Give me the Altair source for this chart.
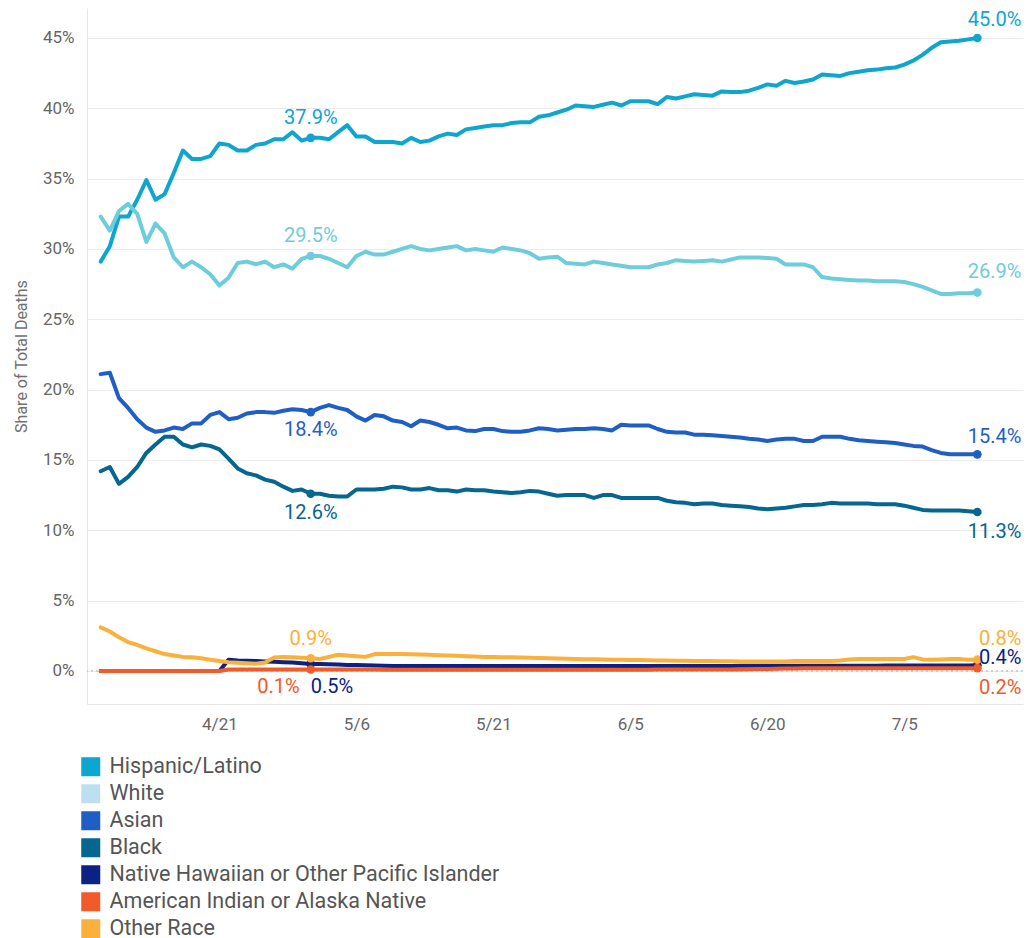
import altair as alt
import pandas as pd

series_names = [
    "Hispanic/Latino",
    "White",
    "Asian",
    "Black",
    "Native Hawaiian or Other Pacific Islander",
    "American Indian or Alaska Native",
    "Other Race",
]
line_colors = ["#0ea5cf", "#6ecddb", "#1f5fc5", "#05668f", "#0b2183", "#f15a29", "#fbb03b"]
swatch_colors = ["#0ca6d1", "#bde0f1", "#1f5fc5", "#05668f", "#0b2183", "#f15a29", "#fbb03b"]

dates = pd.date_range("2020-04-08", "2020-07-13", freq="D").strftime("%Y-%m-%d").tolist()
tick_labels = ["4/21", "5/6", "5/21", "6/5", "6/20", "7/5"]

hispanic = [
    29.1, 30.2, 32.3, 32.3, 33.5, 34.9, 33.5, 33.9, 35.4, 37.0,
    36.4, 36.4, 36.6, 37.5, 37.4, 37.0, 37.0, 37.4, 37.5, 37.8,
    37.8, 38.3, 37.7, 37.9, 37.9, 37.8, 38.3, 38.8, 38.0, 38.0,
    37.6, 37.6, 37.6, 37.5, 37.9, 37.6, 37.7, 38.0, 38.2, 38.1,
    38.5, 38.6, 38.7, 38.8, 38.8, 38.95, 39.0, 39.0, 39.4, 39.5,
    39.7, 39.9, 40.2, 40.15, 40.1, 40.25, 40.4, 40.2, 40.5, 40.5,
    40.5, 40.3, 40.8, 40.7, 40.85, 41.0, 40.95, 40.9, 41.2, 41.15,
    41.15, 41.25, 41.45, 41.7, 41.6, 41.95, 41.8, 41.9, 42.05, 42.4,
    42.35, 42.3, 42.5, 42.6, 42.7, 42.75, 42.85, 42.9, 43.1, 43.4,
    43.8, 44.3, 44.7, 44.75, 44.8, 44.9, 45.0,
]
white = [
    32.3, 31.3, 32.7, 33.2, 32.5, 30.5, 31.8, 31.1, 29.4, 28.7,
    29.1, 28.7, 28.2, 27.4, 27.95, 29.0, 29.1, 28.9, 29.1, 28.7,
    28.9, 28.6, 29.3, 29.5, 29.5, 29.3, 29.0, 28.7, 29.5, 29.8,
    29.6, 29.6, 29.8, 30.0, 30.2, 30.0, 29.9, 30.0, 30.1, 30.2,
    29.9, 30.0, 29.9, 29.8, 30.1, 30.0, 29.9, 29.7, 29.3, 29.4,
    29.45, 29.0, 28.95, 28.9, 29.1, 29.0, 28.9, 28.8, 28.7, 28.7,
    28.7, 28.9, 29.0, 29.2, 29.15, 29.1, 29.15, 29.2, 29.1, 29.25,
    29.4, 29.4, 29.4, 29.35, 29.3, 28.9, 28.9, 28.9, 28.7, 28.0,
    27.9, 27.85, 27.8, 27.75, 27.75, 27.7, 27.7, 27.7, 27.65, 27.5,
    27.3, 27.05, 26.8, 26.8, 26.85, 26.85, 26.9,
]
asian = [
    21.1, 21.2, 19.4, 18.7, 17.9, 17.3, 17.0, 17.1, 17.3, 17.2,
    17.6, 17.6, 18.2, 18.4, 17.9, 18.0, 18.3, 18.4, 18.4, 18.35,
    18.5, 18.6, 18.55, 18.4, 18.7, 18.9, 18.7, 18.55, 18.1, 17.8,
    18.2, 18.1, 17.8, 17.7, 17.4, 17.8, 17.7, 17.5, 17.25, 17.3,
    17.1, 17.05, 17.2, 17.2, 17.05, 17.0, 17.0, 17.1, 17.25, 17.2,
    17.1, 17.15, 17.2, 17.2, 17.25, 17.2, 17.1, 17.5, 17.45, 17.45,
    17.45, 17.2, 17.0, 16.95, 16.95, 16.8, 16.8, 16.75, 16.7, 16.65,
    16.6, 16.5, 16.45, 16.35, 16.45, 16.5, 16.5, 16.35, 16.35, 16.65,
    16.65, 16.65, 16.5, 16.4, 16.35, 16.3, 16.25, 16.2, 16.1, 16.0,
    15.95, 15.7, 15.5, 15.4, 15.4, 15.4, 15.4,
]
black = [
    14.2, 14.5, 13.3, 13.8, 14.5, 15.5, 16.1, 16.65, 16.65, 16.1,
    15.9, 16.1, 16.0, 15.75, 15.1, 14.4, 14.05, 13.9, 13.6, 13.45,
    13.1, 12.8, 12.9, 12.6, 12.6, 12.45, 12.4, 12.4, 12.9, 12.9,
    12.9, 12.95, 13.1, 13.05, 12.9, 12.9, 13.0, 12.85, 12.85, 12.75,
    12.9, 12.85, 12.85, 12.75, 12.7, 12.65, 12.7, 12.8, 12.75, 12.6,
    12.45, 12.5, 12.5, 12.5, 12.3, 12.5, 12.5, 12.3, 12.3, 12.3,
    12.3, 12.3, 12.1, 12.0, 11.95, 11.85, 11.9, 11.9, 11.8, 11.75,
    11.7, 11.65, 11.55, 11.5, 11.55, 11.6, 11.7, 11.8, 11.8, 11.85,
    11.95, 11.9, 11.9, 11.9, 11.9, 11.85, 11.85, 11.85, 11.75, 11.6,
    11.45, 11.4, 11.4, 11.4, 11.4, 11.35, 11.3,
]
nhpi = [
    0, 0, 0, 0, 0, 0, 0, 0, 0, 0,
    0, 0, 0, 0, 0.8, 0.75, 0.72, 0.7, 0.68, 0.65,
    0.62, 0.6, 0.55, 0.5, 0.5, 0.48, 0.45, 0.43, 0.42, 0.4,
    0.38, 0.37, 0.36, 0.35, 0.35, 0.35, 0.35, 0.35, 0.35, 0.35,
    0.35, 0.35, 0.35, 0.35, 0.35, 0.35, 0.35, 0.35, 0.35, 0.35,
    0.35, 0.35, 0.35, 0.35, 0.35, 0.35, 0.35, 0.35, 0.35, 0.35,
    0.35, 0.35, 0.35, 0.36, 0.36, 0.36, 0.36, 0.36, 0.36, 0.36,
    0.37, 0.37, 0.37, 0.37, 0.37, 0.37, 0.37, 0.37, 0.37, 0.37,
    0.37, 0.37, 0.37, 0.37, 0.37, 0.37, 0.38, 0.38, 0.38, 0.38,
    0.38, 0.38, 0.38, 0.38, 0.39, 0.39, 0.4,
]
aian = [
    0, 0, 0, 0, 0, 0, 0, 0, 0, 0,
    0, 0, 0, 0, 0.1, 0.1, 0.1, 0.1, 0.1, 0.1,
    0.1, 0.1, 0.1, 0.1, 0.1, 0.1, 0.1, 0.1, 0.1, 0.1,
    0.1, 0.08, 0.08, 0.08, 0.08, 0.08, 0.08, 0.08, 0.08, 0.08,
    0.08, 0.08, 0.08, 0.08, 0.08, 0.08, 0.08, 0.08, 0.08, 0.08,
    0.08, 0.08, 0.08, 0.08, 0.08, 0.08, 0.08, 0.08, 0.08, 0.08,
    0.08, 0.1, 0.1, 0.1, 0.1, 0.1, 0.1, 0.1, 0.1, 0.1,
    0.1, 0.12, 0.13, 0.14, 0.15, 0.17, 0.18, 0.19, 0.2, 0.2,
    0.2, 0.2, 0.2, 0.2, 0.2, 0.2, 0.2, 0.2, 0.2, 0.2,
    0.2, 0.2, 0.2, 0.2, 0.2, 0.2, 0.2,
]
other = [
    3.1, 2.8, 2.4, 2.05, 1.85, 1.6, 1.4, 1.2, 1.1, 1.0,
    0.97, 0.9, 0.8, 0.7, 0.62, 0.58, 0.55, 0.52, 0.6, 0.95,
    1.0, 0.97, 0.93, 0.9, 0.85, 1.0, 1.15, 1.1, 1.05, 1.0,
    1.2, 1.2, 1.2, 1.2, 1.18, 1.17, 1.15, 1.12, 1.1, 1.08,
    1.05, 1.03, 1.0, 1.0, 0.98, 0.97, 0.95, 0.93, 0.92, 0.9,
    0.88, 0.87, 0.85, 0.84, 0.83, 0.82, 0.8, 0.79, 0.78, 0.77,
    0.76, 0.75, 0.74, 0.73, 0.72, 0.71, 0.7, 0.7, 0.69, 0.69,
    0.68, 0.68, 0.68, 0.68, 0.68, 0.68, 0.7, 0.7, 0.7, 0.7,
    0.7, 0.75, 0.82, 0.85, 0.85, 0.85, 0.85, 0.85, 0.85, 0.98,
    0.82, 0.8, 0.82, 0.85, 0.85, 0.8, 0.8,
]

all_values = [hispanic, white, asian, black, nhpi, aian, other]
marker_days = [23, 96]

# placement of the value labels (style only)
label_place = {
    ("Hispanic/Latino", 23): ("center", 0, -20),
    ("White", 23): ("center", 0, -20),
    ("Asian", 23): ("center", 0, 18),
    ("Black", 23): ("center", 0, 19),
    ("Native Hawaiian or Other Pacific Islander", 23): ("left", 0, 23),
    ("American Indian or Alaska Native", 23): ("right", -11, 17),
    ("Other Race", 23): ("center", 0, -19),
    ("Hispanic/Latino", 96): ("right", 44, -18),
    ("White", 96): ("right", 44, -21),
    ("Asian", 96): ("right", 44, -17),
    ("Black", 96): ("right", 44, 20),
    ("Native Hawaiian or Other Pacific Islander", 96): ("right", 44, -7),
    ("American Indian or Alaska Native", 96): ("right", 44, 20),
    ("Other Race", 96): ("right", 44, -21),
}

rows = []
for name, vals in zip(series_names, all_values):
    for i, (d, v) in enumerate(zip(dates, vals)):
        rows.append({"series": name, "date": d, "value": v, "day": i})
df = pd.DataFrame(rows)
dots_df = df[df["day"].isin(marker_days)].copy()
dots_df["label"] = dots_df["value"].map(lambda v: f"{v:.1f}%")

def md(label):
    m, d = label.split("/")
    return alt.DateTime(year=2020, month=int(m), date=int(d), utc=True)

FONT = "Roboto"
x_enc = alt.X(
    "date:T",
    scale=alt.Scale(
        type="utc",
        nice=False,
        domain=[alt.DateTime(year=2020, month=4, date=6, hours=12, utc=True),
                alt.DateTime(year=2020, month=7, date=18, utc=True)],
    ),
    axis=alt.Axis(
        values=[md(t) for t in tick_labels], format="%-m/%-d", title=None,
        grid=False, ticks=False, tickSize=0, labelPadding=12,
        labelFontSize=17, labelColor="#666666", labelFont=FONT,
        domainColor="#e6e6e6", domainWidth=1,
    ),
)
y_enc = alt.Y(
    "value:Q",
    scale=alt.Scale(domain=[-2.35, 47.13], nice=False, zero=False),
    axis=alt.Axis(
        values=list(range(0, 50, 5)), labelExpr="datum.value + '%'",
        title="Share of Total Deaths", titleFontSize=16, titleFontWeight="normal",
        titleColor="#707070", titleFont=FONT, titlePadding=13,
        labelFontSize=17, labelColor="#666666", labelFont=FONT, labelPadding=13,
        ticks=False, tickSize=0, grid=True, gridColor="#ebebeb",
        domainColor="#e6e6e6", domainWidth=1,
    ),
)
line_scale = alt.Scale(domain=series_names, range=line_colors)

base = alt.Chart(df)

zero_rule = alt.Chart(pd.DataFrame({"value": [0]})).mark_rule(
    color="#aaaaaa", strokeDash=[2, 3], strokeWidth=1
).encode(y=y_enc)

legend_layer = base.mark_square(opacity=0, size=1).encode(
    x=x_enc, y=y_enc,
    fill=alt.Fill(
        "series:N",
        scale=alt.Scale(domain=series_names, range=swatch_colors),
        legend=alt.Legend(
            title=None, orient="none", legendX=-7, legendY=748, direction="vertical",
            symbolType="square", symbolSize=361, symbolStrokeWidth=0,
            labelFontSize=21.5, labelFont=FONT, labelColor="#555555",
            labelOffset=8, rowPadding=4, padding=0, labelLimit=700,
        ),
    ),
)

lines = base.mark_line(strokeWidth=4, strokeJoin="round", strokeCap="round").encode(
    x=x_enc, y=y_enc,
    stroke=alt.Stroke("series:N", scale=line_scale, legend=None),
)

dots = alt.Chart(dots_df).mark_circle(size=75, opacity=1).encode(
    x=x_enc, y=y_enc,
    color=alt.Color("series:N", scale=line_scale, legend=None),
)

label_layers = []
for name, color in zip(series_names, line_colors):
    for day in marker_days:
        align, dx, dy = label_place[(name, day)]
        sub = dots_df[(dots_df["series"] == name) & (dots_df["day"] == day)]
        label_layers.append(
            alt.Chart(sub).mark_text(
                align=align, baseline="middle", dx=dx, dy=dy,
                fontSize=20, font=FONT, color=color,
            ).encode(x=x_enc, y=y_enc, text="label:N")
        )

chart = alt.layer(zero_rule, legend_layer, lines, dots, *label_layers).properties(
    width=936,
    height=696,
    padding={"left": 79, "top": 0, "right": 5, "bottom": 234},
    autosize=alt.AutoSizeParams(type="none"),
).configure(font=FONT).configure_view(stroke=None)

chart.save("out.html", embed_options={"renderer": "svg", "actions": False})
